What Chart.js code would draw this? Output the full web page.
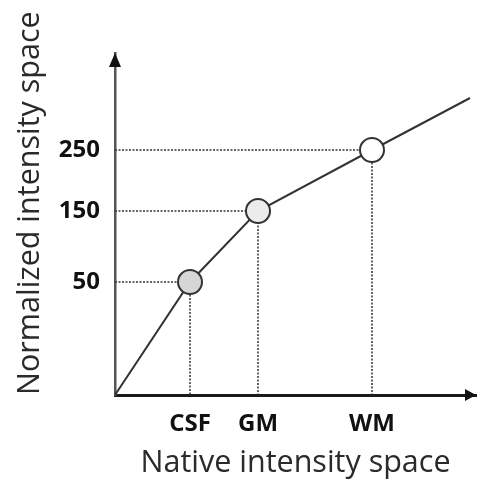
<!DOCTYPE html>
<html>
<head>
<meta charset="utf-8">
<script src="https://cdn.jsdelivr.net/npm/chart.js@4"></script>
<style>
  body { margin: 0; background: #fff; }
  #wrap { width: 478px; height: 482px; }
</style>
</head>
<body>
<div id="wrap"><canvas id="mapChart" width="478" height="482"></canvas></div>
<script>
// schematic positions (axis units, origin at 0,0)
const tissues = ['CSF', 'GM', 'WM'];
const nativePos = [75, 143, 257];
const normPos = [113, 184, 245];
const normLabels = ['50', '150', '250'];
const markerFill = ['#d6d6d6', '#ececec', '#ffffff'];
// ends of the mapping line
const lineStart = { x: 0, y: 0 };
const lineEnd = { x: 355, y: 297 };
const axisMax = { x: 361, y: 342 };

// --- Arrow heads on the axes ---
const axisArrows = {
    id: 'axisArrows',
    afterDraw(chart) {
        const { ctx, chartArea: a } = chart;
        ctx.save();
        ctx.fillStyle = '#111';
        ctx.beginPath();
        ctx.moveTo(a.left, a.top);
        ctx.lineTo(a.left - 6, a.top + 14);
        ctx.lineTo(a.left + 6, a.top + 14);
        ctx.closePath();
        ctx.fill();
        ctx.beginPath();
        ctx.moveTo(a.right, a.bottom);
        ctx.lineTo(a.right - 11, a.bottom - 6);
        ctx.lineTo(a.right - 11, a.bottom + 6);
        ctx.closePath();
        ctx.fill();
        ctx.restore();
    }
};

const mainPoints = [lineStart, ...tissues.map((t, i) => ({ x: nativePos[i], y: normPos[i] })), lineEnd];

const guideSets = tissues.map((t, i) => ({
    label: t + ' guide',
    data: [{ x: 0, y: normPos[i] }, { x: nativePos[i], y: normPos[i] }, { x: nativePos[i], y: 0 }],
    showLine: true,
    borderColor: '#333',
    borderWidth: 1.5,
    borderDash: [2, 1.5],
    pointRadius: 0,
    order: 2
}));

new Chart(document.getElementById('mapChart').getContext('2d'), {
    type: 'scatter',
    data: {
        datasets: [
            {
                label: 'mapping',
                data: mainPoints,
                showLine: true,
                borderColor: '#333',
                borderWidth: 2,
                pointRadius: [0, 12, 12, 12, 0],
                pointBorderWidth: 2,
                pointBorderColor: '#333',
                pointBackgroundColor: ['#fff', ...markerFill, '#fff'],
                clip: false,
                order: 1
            },
            ...guideSets
        ]
    },
    options: {
        responsive: false,
        animation: false,
        layout: { padding: { top: 53, right: 2, left: 0, bottom: 0 } },
        plugins: { legend: { display: false }, tooltip: { enabled: false } },
        scales: {
            x: {
                type: 'linear',
                min: 0,
                max: axisMax.x,
                afterBuildTicks: s => { s.ticks = nativePos.map(v => ({ value: v })); },
                afterFit: s => { s.height = 87; },
                ticks: {
                    callback: (v) => tissues[nativePos.indexOf(v)],
                    padding: 15,
                    color: '#111',
                    font: { family: 'Open Sans', size: 24, weight: 'bold' }
                },
                grid: { display: false, drawTicks: false },
                border: { color: '#1a1a1a', width: 3 },
                title: {
                    display: true,
                    text: 'Native intensity space',
                    color: '#2a2a2a',
                    padding: { top: 0, bottom: 3 },
                    font: { family: 'Open Sans', size: 30.5, lineHeight: 1 }
                }
            },
            y: {
                type: 'linear',
                min: 0,
                max: axisMax.y,
                afterBuildTicks: s => { s.ticks = normPos.map(v => ({ value: v })); },
                afterFit: s => { s.width = 115; },
                ticks: {
                    callback: (v) => normLabels[normPos.indexOf(v)],
                    padding: 15,
                    color: '#111',
                    font: { family: 'Open Sans', size: 24, weight: 'bold' }
                },
                grid: { display: false, drawTicks: false },
                border: { color: '#555', width: 2.5 },
                title: {
                    display: true,
                    text: 'Normalized intensity space',
                    align: 'start',
                    color: '#2a2a2a',
                    padding: { top: 15, bottom: 0 },
                    font: { family: 'Open Sans', size: 30.5, lineHeight: 1 }
                }
            }
        }
    },
    plugins: [axisArrows]
});
</script>
</body>
</html>
